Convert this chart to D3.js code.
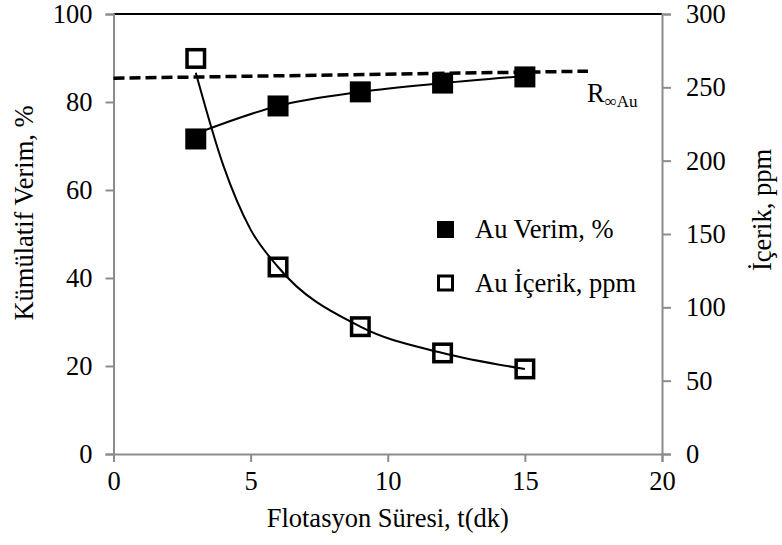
<!DOCTYPE html>
<html lang="tr">
<head>
<meta charset="UTF-8">
<script src="https://d3js.org/d3.v7.min.js"></script>
<style>
  body { margin:0; background:#fff; }
</style>
</head>
<body>
<script>
// data
var times = [3, 6, 9, 12, 15];
var verim = [71.6, 79.1, 82.3, 84.3, 85.7];      // Au Verim, %  (left axis)
var icerik = [269.7, 127.5, 86.8, 68.9, 58];     // Au İçerik, ppm (right axis)
var verimFit = [72.8, 79.1, 82.3, 84.3, 85.9];   // fitted curve, read at the same times
var icerikFitT = [3, 4, 5, 6, 9, 12, 15];
var icerikFit = [260, 197, 153, 127.5, 86.8, 68.9, 58];
var rInfT = [0, 17.3];
var rInf = [85.4, 87.0];
var xTicks = [0, 5, 10, 15, 20];
var yLeftTicks = [0, 20, 40, 60, 80, 100];
var yRightTicks = [0, 50, 100, 150, 200, 250, 300];

var W = 782, H = 545;
var pLeft = 113.5, pRight = 662, pTop = 14, pBottom = 454;
var axisGrey = "#8c8c8c";
var serif = "'Liberation Serif', 'DejaVu Serif', serif";
var fs = "26.5px";

var svg = d3.select("body").append("svg")
    .attr("width", W)
    .attr("height", H)
    .style("font-family", serif);

var x = d3.scaleLinear().domain([0, 20]).range([pLeft, pRight]);
var yL = d3.scaleLinear().domain([0, 100]).range([pBottom, pTop]);
var yR = d3.scaleLinear().domain([0, 300]).range([pBottom, pTop]);

// top border
svg.append("line")
    .attr("x1", pLeft).attr("x2", pRight)
    .attr("y1", pTop).attr("y2", pTop)
    .attr("stroke", "#000").attr("stroke-width", 2);

function styleAxis(g) {
  g.attr("font-family", null).attr("font-size", null);
  g.select(".domain").attr("stroke", axisGrey).attr("stroke-width", 2);
  g.selectAll(".tick line").attr("stroke", axisGrey).attr("stroke-width", 2);
  g.selectAll(".tick text").attr("fill", "#000")
      .style("font-family", serif).style("font-size", fs);
}

svg.append("g")
    .attr("transform", "translate(0," + pBottom + ")")
    .call(d3.axisBottom(x).tickValues(xTicks).tickSizeOuter(0).tickSize(8).tickPadding(9))
    .call(styleAxis)
    .call(function(g) { g.selectAll(".tick text").attr("dy", "0.72em"); });

svg.append("g")
    .attr("transform", "translate(" + pLeft + ",0)")
    .call(d3.axisLeft(yL).tickValues(yLeftTicks).tickSizeOuter(0).tickSize(8).tickPadding(13))
    .call(styleAxis);

svg.append("g")
    .attr("transform", "translate(" + pRight + ",0)")
    .call(d3.axisRight(yR).tickValues(yRightTicks).tickSizeOuter(0).tickSize(9).tickPadding(15))
    .call(styleAxis);

// axis titles
svg.append("text")
    .attr("x", (pLeft + pRight) / 2)
    .attr("y", 527)
    .attr("text-anchor", "middle")
    .style("font-size", fs)
    .text("Flotasyon Süresi, t(dk)");

svg.append("text")
    .attr("transform", "translate(33,213) rotate(-90)")
    .attr("text-anchor", "middle")
    .style("font-size", fs)
    .text("Kümülatif Verim, %");

svg.append("text")
    .attr("transform", "translate(771,210) rotate(-90)")
    .attr("text-anchor", "middle")
    .style("font-size", fs)
    .text("İçerik, ppm");

// R-infinity dashed line
var rLine = d3.line()
    .x(function(d, i) { return x(rInfT[i]); })
    .y(function(d) { return yL(d); });
svg.append("path")
    .datum(rInf)
    .attr("d", rLine)
    .attr("fill", "none")
    .attr("stroke", "#000")
    .attr("stroke-width", 3.5)
    .attr("stroke-dasharray", "11,5");

var rLabel = svg.append("text")
    .attr("x", 587)
    .attr("y", 102)
    .style("font-size", fs);
rLabel.append("tspan").text("R");
rLabel.append("tspan").attr("dy", 5).style("font-size", "17px").text("∞Au");

// fitted curves
var lineL = d3.line()
    .x(function(d, i) { return x(times[i]); })
    .y(function(d) { return yL(d); })
    .curve(d3.curveMonotoneX);
var lineR = d3.line()
    .x(function(d, i) { return x(icerikFitT[i]); })
    .y(function(d) { return yR(d); })
    .curve(d3.curveMonotoneX);

svg.append("path").datum(verimFit).attr("d", lineL)
    .attr("fill", "none").attr("stroke", "#000").attr("stroke-width", 2);
svg.append("path").datum(icerikFit).attr("d", lineR)
    .attr("fill", "none").attr("stroke", "#000").attr("stroke-width", 2);

// markers
svg.selectAll(".verim").data(verim).enter().append("rect")
    .attr("class", "verim")
    .attr("x", function(d, i) { return x(times[i]) - 10.5; })
    .attr("y", function(d) { return yL(d) - 10.5; })
    .attr("width", 21).attr("height", 21)
    .attr("fill", "#000");

svg.selectAll(".icerik").data(icerik).enter().append("rect")
    .attr("class", "icerik")
    .attr("x", function(d, i) { return x(times[i]) - 8.75; })
    .attr("y", function(d) { return yR(d) - 8.75; })
    .attr("width", 17.5).attr("height", 17.5)
    .attr("fill", "none")
    .attr("stroke", "#000")
    .attr("stroke-width", 3.5);

// legend
var legend = svg.append("g");
legend.append("rect")
    .attr("x", 437).attr("y", 221)
    .attr("width", 17).attr("height", 17)
    .attr("fill", "#000");
legend.append("text")
    .attr("x", 475).attr("y", 238)
    .style("font-size", fs)
    .text("Au Verim, %");
legend.append("rect")
    .attr("x", 438.5).attr("y", 276)
    .attr("width", 14).attr("height", 14)
    .attr("fill", "none").attr("stroke", "#000").attr("stroke-width", 3);
legend.append("text")
    .attr("x", 475).attr("y", 292)
    .style("font-size", fs)
    .text("Au İçerik, ppm");
</script>
</body>
</html>
